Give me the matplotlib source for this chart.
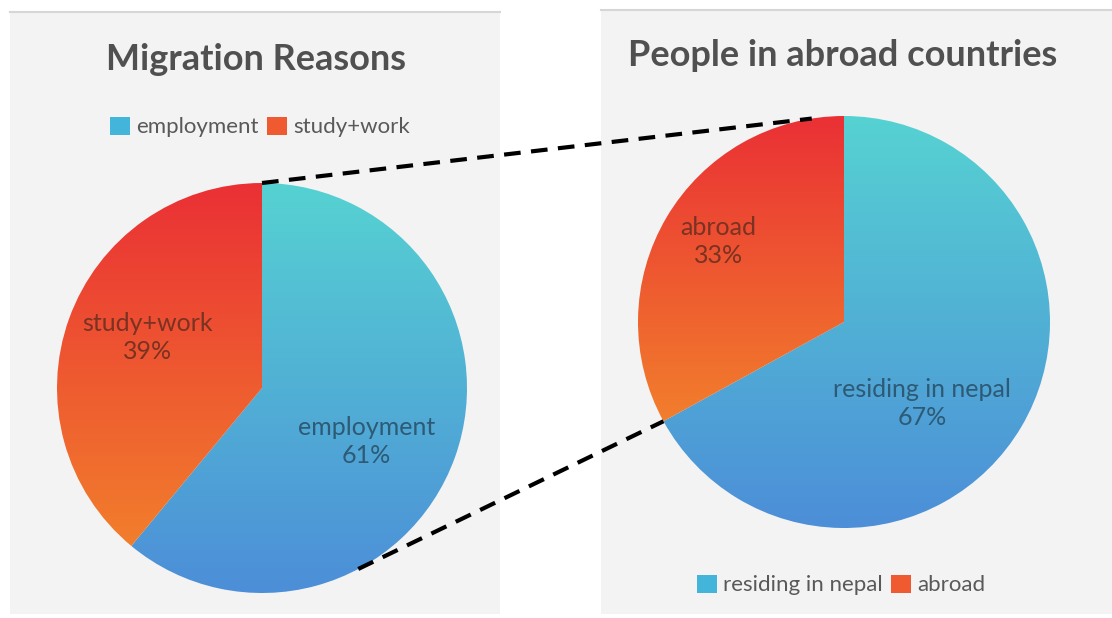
import numpy as np
import matplotlib.pyplot as plt
from matplotlib.colors import LinearSegmentedColormap
from matplotlib.patches import Rectangle, Patch

plt.rcParams['font.family'] = ['Lato', 'DejaVu Sans']

# data
left_title = "Migration Reasons"
left_labels = ["employment", "study+work"]
left_values = [61, 39]

right_title = "People in abroad countries"
right_labels = ["residing in nepal", "abroad"]
right_values = [67, 33]

# colours (top -> bottom of each slice)
blue_grad = ("#56d2d2", "#4c8ed8")
red_grad = ("#ea3035", "#f27e2c")
text_cols = ("#2d5a75", "#7a3222")

W, H = 1112, 618

fig = plt.figure(figsize=(W / 100, H / 100), dpi=100)
ax = fig.add_axes([0, 0, 1, 1])


def py(y):
    # pixel row (from top) -> data y
    return H - y


# chart area panels
for x0, x1, top in [(10, 500, 12), (601, 1112, 10)]:
    ax.add_patch(Rectangle((x0, py(614)), x1 - x0, 614 - top,
                           fc="#f3f3f3", ec="none", zorder=0))
    ax.plot([x0, x1], [py(top), py(top)], color="#d6d6d6", lw=1.5, zorder=1)


def gradient_pie(values, labels, center, radius, label_offs):
    wedges, texts = ax.pie(values,
                           labels=[f"{l}\n{v}%" for l, v in zip(labels, values)],
                           center=center, radius=radius, startangle=90,
                           counterclock=False, frame=True,
                           wedgeprops=dict(linewidth=0))
    for w, grad, tc, t, off in zip(wedges, [blue_grad, red_grad], text_cols,
                                   texts, label_offs):
        ext = w.get_path().get_extents()
        cmap = LinearSegmentedColormap.from_list("g", [grad[1], grad[0]])
        grad_img = np.linspace(0, 1, 256).reshape(-1, 1)
        im = ax.imshow(grad_img, cmap=cmap, origin="lower", aspect="auto",
                       extent=[ext.x0, ext.x1, ext.y0, ext.y1], zorder=2,
                       interpolation="bilinear")
        im.set_clip_path(w)
        w.set_facecolor("none")
        t.set_position((center[0] + off[0] * radius, center[1] + off[1] * radius))
        t.set_ha("center")
        t.set_va("center")
        t.set_color(tc)
        t.set_fontsize(18)
        t.set_linespacing(1.25)
        t.set_zorder(3)
    return wedges


lc, lr = (262, py(388)), 205
rc, rr = (844, py(322)), 206
gradient_pie(left_values, left_labels, lc, lr, [(0.51, -0.26), (-0.56, 0.245)])
gradient_pie(right_values, right_labels, rc, rr, [(0.38, -0.395), (-0.61, 0.39)])

# titles
ax.text(256, py(60), left_title, ha="center", va="center", fontsize=26,
        fontweight="bold", color="#505050")
ax.text(843, py(56), right_title, ha="center", va="center", fontsize=26,
        fontweight="bold", color="#505050")

# connector lines (zoom from left pie to the "abroad" slice)
split = np.deg2rad(90 + 360 * right_values[1] / 100)
a_top_l, a_top_r = np.deg2rad(90), np.deg2rad(99)
a_bot_l = np.deg2rad(-62)
ax.plot([lc[0] + lr * np.cos(a_top_l), rc[0] + rr * np.cos(a_top_r)],
        [lc[1] + lr * np.sin(a_top_l), rc[1] + rr * np.sin(a_top_r)],
        color="black", lw=3, ls=(0, (4, 2.5)), zorder=5)
ax.plot([lc[0] + lr * np.cos(a_bot_l), rc[0] + rr * np.cos(split)],
        [lc[1] + lr * np.sin(a_bot_l), rc[1] + rr * np.sin(split)],
        color="black", lw=3, ls=(0, (4, 2.5)), zorder=5)

# legends
leg_cols = ["#43b4da", "#ef5a30"]
for labels, anchor in [(left_labels, (260 / W, 1 - 127 / H)),
                       (right_labels, (841 / W, 1 - 585 / H))]:
    handles = [Patch(fc=c, ec="none") for c in leg_cols]
    fig.legend(handles, labels, loc="center", bbox_to_anchor=anchor, ncol=2,
               frameon=False, fontsize=16, handlelength=0.9, handleheight=0.9,
               handletextpad=0.25, columnspacing=0.4, labelcolor="#595959")

ax.set_xlim(0, W)
ax.set_ylim(0, H)
ax.set_aspect("auto")
ax.axis("off")

fig.savefig("out.png", dpi=100, facecolor="white")
